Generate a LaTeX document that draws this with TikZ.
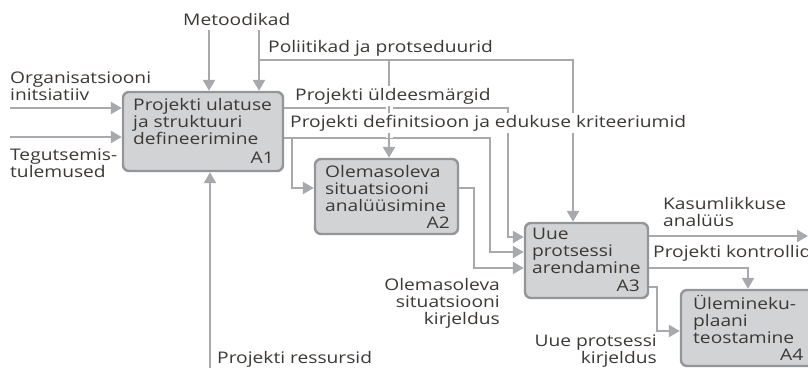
\documentclass[tikz,border=0pt]{standalone}
\usepackage{fontspec}
\setmainfont{Open Sans}[FakeStretch=1.2]
\usetikzlibrary{arrows.meta}
\definecolor{boxfill}{HTML}{D1D3D4}
\definecolor{boxline}{HTML}{939598}
\definecolor{flowline}{HTML}{A7A9AC}
\definecolor{txt}{HTML}{3B3835}
\tikzset{
  fn/.style={draw=boxline, fill=boxfill, line width=2.4pt, rounded corners=6pt, inner sep=0pt},
  flow/.style={draw=flowline, line width=2.4pt, -{Triangle[length=11pt,width=12pt]}},
  bridge/.style={preaction={draw=white, line width=7pt, -, shorten <=4pt, shorten >=20pt}},
  lbl/.style={text=txt, inner sep=0pt, align=left, font=\fontsize{16}{17}\selectfont},
  tag/.style={lbl, fill=white, inner sep=2pt},
}

\begin{document}
\begin{tikzpicture}[x=1pt, y=-1pt]
    \useasboundingbox (0,0) rectangle (808,367);
    \clip (0,0) rectangle (808,367);

    % function boxes
    \node[fn, minimum width=160pt, minimum height=79pt] (A1) at (203,131.5) {};
    \node[fn, minimum width=143pt, minimum height=75pt] (A2) at (386.5,196.5) {};
    \node[fn, minimum width=123pt, minimum height=75pt] (A3) at (586.5,260.5) {};
    \node[fn, minimum width=133pt, minimum height=76pt] (A4) at (747.5,328) {};

    \node[lbl, anchor=base west] (A1txt) at (133,144) {Projekti ulatuse\\ja struktuuri\\defineerimine};
    \node[lbl, anchor=base east] (A1id) at (274,163) {A1};
    \node[lbl, anchor=base west] (A2txt) at (325,211) {Olemasoleva\\situatsiooni\\analüüsimine};
    \node[lbl, anchor=base east] (A2id) at (450,228) {A2};
    \node[lbl, anchor=base west] (A3txt) at (532,273) {Uue\\protsessi\\arendamine};
    \node[lbl, anchor=base east] (A3id) at (640,291) {A3};
    \node[lbl, anchor=base west] (A4txt) at (693,343) {Ülemineku-\\plaani\\teostamine};
    \node[lbl, anchor=base west] (A4id) at (780,360) {A4};

    \node[lbl, anchor=base west, inner ysep=5pt] (metod) at (183,25) {Metoodikad};

    % free ends
    \coordinate (polsplit) at (259,60);
    \coordinate (defsplit) at (292,138);
    \coordinate (orgsrc) at (10,108);
    \coordinate (tegsrc) at (10,137);
    \coordinate (ressrc) at (210,372);
    \coordinate (kasout) at (808,236);

    % connectors
    \draw[flow] (metod.south -| 209,0) -- (A1.north -| 209,0);
    \draw[flow] (metod.south -| 259,0) -- (A1.north -| 259,0);
    \draw[flow] (polsplit) -| (A3.north -| 573,0);
    \draw[flow] (orgsrc) -- (A1.west |- 0,108);
    \draw[flow] (tegsrc) -- (A1.west |- 0,137);
    \draw[flow] (ressrc) -- (A1.south -| 210,0);
    \draw[flow] (A1.east |- 0,108) -| (508,237) -- (A3.west |- 0,237);
    \draw[flow] (A1.east |- 0,138) -| (490,252) -- (A3.west |- 0,252);
    \draw[flow] (defsplit) |- (A2.west |- 0,188);
    \draw[flow, bridge] (polsplit -| 389,0) -- (A2.north -| 389,0);
    \draw[flow] (A2.east |- 0,188) -| (474,268) -- (A3.west |- 0,268);
    \draw[flow] (A3.east |- 0,236) -- (kasout);
    \draw[flow] (A3.east |- 0,268) -| (A4.north -| 748,0);
    \draw[flow] (A3.east |- 0,287) -| (657,331) -- (A4.west |- 0,331);

    % labels
    \node[lbl, anchor=base west] (orglbl) at (10,100) {Organisatsiooni\\initsiatiiv};
    \node[lbl, anchor=base west] (teglbl) at (10,177) {Tegutsemis-\\tulemused};
    \node[tag, anchor=base west] (pollbl) at (266,52) {Poliitikad ja protseduurid};
    \node[tag, anchor=base west] (eesmlbl) at (293,100) {Projekti üldeesmärgid};
    \node[tag, anchor=base west] (deflbl) at (288,127) {Projekti definitsioon ja edukuse kriteeriumid};
    \node[lbl, anchor=base east, align=right] (olelbl) at (500,324) {Olemasoleva\\situatsiooni\\kirjeldus};
    \node[lbl, anchor=base west] (reslbl) at (217,363) {Projekti ressursid};
    \node[lbl, anchor=base west] (kaslbl) at (663,226) {Kasumlikkuse\\analüüs};
    \node[lbl, anchor=base west] (kontlbl) at (653,257) {Projekti kontrollid};
    \node[lbl, anchor=base east, align=right] (uuelbl) at (657,363) {Uue protsessi\\kirjeldus};
\end{tikzpicture}
\end{document}
